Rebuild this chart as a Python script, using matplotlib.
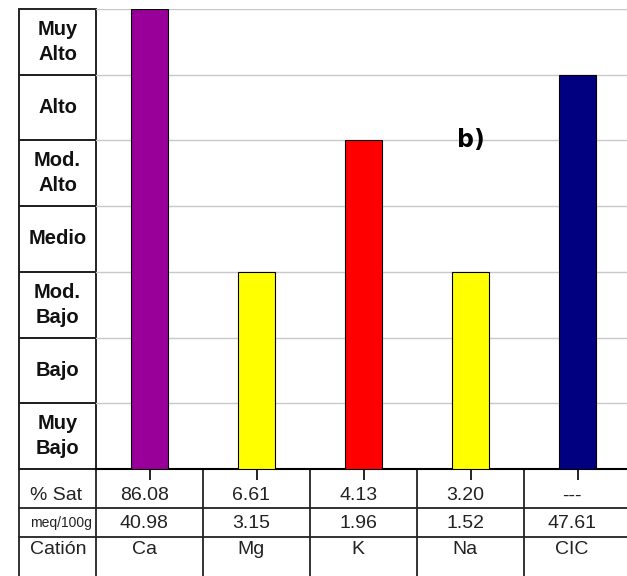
import numpy as np
import matplotlib.pyplot as plt
from matplotlib.patches import Rectangle

cationes = ["Ca", "Mg", "K", "Na", "CIC"]
clase = [7, 3, 5, 3, 6]
colores = ["#990099", "#ffff00", "#ff0000", "#ffff00", "#000080"]
sat = ["86.08", "6.61", "4.13", "3.20", "---"]
meq = ["40.98", "3.15", "1.96", "1.52", "47.61"]
niveles = ["Muy\nBajo", "Bajo", "Mod.\nBajo", "Medio", "Mod.\nAlto", "Alto", "Muy\nAlto"]
filas = ["% Sat", "meq/100g", "Catión"]

plt.rcParams["font.family"] = ["Liberation Sans", "DejaVu Sans"]

fig = plt.figure(figsize=(6.27, 5.76), dpi=100)
ax = fig.add_axes([96 / 627, 107 / 576, 535 / 627, 460 / 576])

x = np.arange(len(cationes))
ax.bar(x, clase, width=0.35, color=colores, edgecolor="black", linewidth=0.8, zorder=3)
ax.set_xlim(-0.5, len(cationes) - 0.5)
ax.set_ylim(0, len(niveles))
ax.set_yticks(np.arange(1, len(niveles) + 1))
ax.yaxis.grid(True, color="#c8c8c8", lw=1)
ax.tick_params(axis="y", length=0, labelleft=False)
ax.set_xticks(x)
ax.tick_params(axis="x", direction="out", length=8, width=1.2, labelbottom=False)
for s in ["top", "right", "left"]:
    ax.spines[s].set_visible(False)
ax.spines["bottom"].set_linewidth(1.5)

# columna de niveles a la izquierda
x_izq = -0.5 - 77 / 107
for i, nombre in enumerate(niveles):
    ax.add_patch(Rectangle((x_izq, i), -0.5 - x_izq, 1, fill=False,
                           edgecolor="#222222", lw=1.4, clip_on=False))
    ax.text((x_izq - 0.5) / 2, i + 0.5, nombre, ha="center", va="center",
            fontsize=14.5, fontweight="bold", linespacing=1.4, color="#111111")

# tabla debajo del eje
tr = ax.get_xaxis_transform()
px = 1 / 460
y_fondo = -110 * px
for xv in [x_izq] + list(np.arange(-0.5, len(cationes))):
    ax.plot([xv, xv], [0, y_fondo], transform=tr, color="#222222", lw=1.3, clip_on=False)
for yv in [0, -39 * px, -68 * px]:
    ax.plot([x_izq, len(cationes) - 0.5], [yv, yv], transform=tr,
            color="#222222", lw=1.3, clip_on=False)

y_txt = [-27 * px, -54 * px, -80 * px]
tam = [14, 10, 14]
valores = [sat, meq, cationes]
for fila, yv, fs, vals in zip(filas, y_txt, tam, valores):
    ax.text(x_izq + 0.1, yv, fila, transform=tr, ha="left", va="center",
            fontsize=fs, color="#222222")
    for xi, v in zip(x, vals):
        ax.text(xi - 0.05, yv, v, transform=tr, ha="center", va="center",
                fontsize=14, color="#222222")

ax.text(3, 5, "b)", ha="center", va="center", fontsize=17, fontweight="bold",
        family="DejaVu Sans")

fig.savefig("out.png", dpi=100)
